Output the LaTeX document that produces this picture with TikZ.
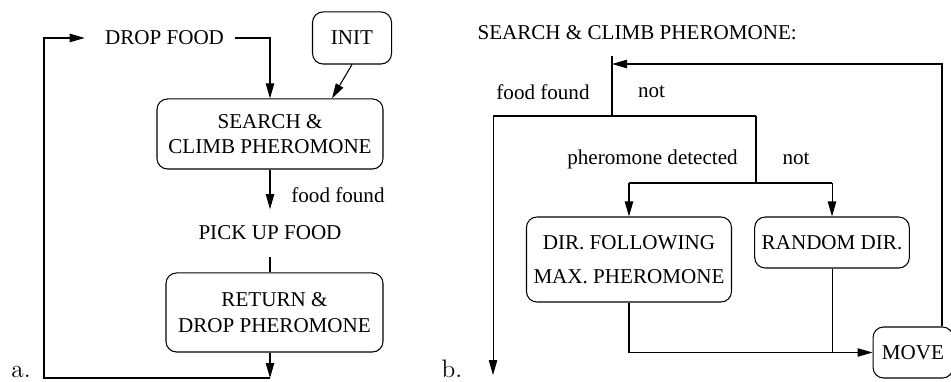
\documentclass[tikz,border=0pt]{standalone}
\usepackage{fontspec}
\usepackage{tikz}
\usetikzlibrary{arrows.meta}
\newfontfamily\tms{Liberation Serif}

\begin{document}
\begin{tikzpicture}[line width=0.5pt]
	\tikzset{box/.style={draw,rounded corners=5pt,align=center,font=\tms},
		txt/.style={inner sep=0pt,font=\tms},
		panel/.style={inner sep=0pt,anchor=base,font=\large}}
	\tikzset{arr/.style={-{Triangle[length=2.5mm,width=1.4mm]}}}
	
	% Fix the size of the picture
	\useasboundingbox (0,0) rectangle (15.85,6.35);
	
	% Left part: the states
	\node[txt] (drop) at (2.742,5.717) {DROP FOOD};
	\node[box,minimum width=1.317cm,minimum height=0.867cm] (init) at (5.867,5.717) {INIT};
	\node[box,minimum width=3.767cm,minimum height=1.167cm] (search) at (4.5,4.117) {SEARCH \&\\CLIMB PHEROMONE};
	\node[txt] (pick) at (4.5,2.467) {PICK UP FOOD};
	\node[box,minimum width=3.617cm,minimum height=1.317cm] (ret) at (4.575,1.142) {RETURN \&\\DROP PHEROMONE};
	\node[txt] (found) at (5.633,3.1) {food found};
	
	% Corners of the loop
	\coordinate (bot) at (4.5,0.05);
	\coordinate (lft) at (0.733,0.05);
	
	% Left part: the transitions
	\draw[arr,shorten <=0.18cm] (drop.east) -| (search.north);
	\draw[arr] (init.south) -- ([xshift=1.033cm]search.north);
	\draw[arr,shorten >=0.27cm] (search.south) -- (pick.north);
	\draw[shorten <=0.28cm] (pick.south) -- (pick.south |- ret.north);
	\draw[arr] (pick.south |- ret.south) -- (bot);
	\draw[arr,shorten >=0.33cm] (bot) -- (lft) |- (drop.west);
	
	\node[panel] (pa) at (0.35,0.06) {a.};
	
	% Right part: the search step
	\node[txt,anchor=west] (title) at (7.95,5.8) {SEARCH \& CLIMB PHEROMONE:};
	
	\coordinate (top) at (10.2,5.417);
	\coordinate (back) at (10.2,5.283);
	\coordinate (split1) at (10.2,4.417);
	\coordinate (ffl) at (8.217,4.417);
	\coordinate (ffend) at (8.217,0.1);
	\coordinate (phr) at (12.6,4.417);
	\coordinate (split2) at (12.6,3.3);
	\coordinate (dl) at (10.483,3.3);
	\coordinate (dr) at (13.867,3.3);
	
	\node[box,minimum width=3.4cm,minimum height=1.417cm] (dir) at (10.483,2.025) {DIR. FOLLOWING\\[4pt]MAX. PHEROMONE};
	\node[box,minimum width=2.533cm,minimum height=0.85cm] (rnd) at (13.867,2.308) {RANDOM DIR.};
	\node[box,minimum width=1.333cm,minimum height=0.85cm] (move) at (15.217,0.475) {MOVE};
	
	% Branch labels
	\node[txt] (ff) at (9.05,4.817) {food found};
	\node[txt] (not1) at (10.86,4.817) {not};
	\node[txt] (phd) at (10.875,3.7) {pheromone detected};
	\node[txt] (not2) at (13.267,3.7) {not};
	
	% Branches
	\draw (top) -- (split1);
	\draw (ffl) -- (phr);
	\draw[arr] (ffl) -- (ffend);
	\draw (phr) -- (split2);
	\draw (dl) -- (dr);
	\draw[arr] (dl) -- (dir.north);
	\draw[arr] (dr) -- (rnd.north);
	\draw[arr] (dir.south) |- (move.west);
	\draw (rnd.south) -- (rnd.south |- move.west);
	\draw[arr] ([xshift=0.483cm]move.north) |- (back);
	
	\node[panel] (pb) at (7.533,0.06) {b.};
	
\end{tikzpicture}
\end{document}
